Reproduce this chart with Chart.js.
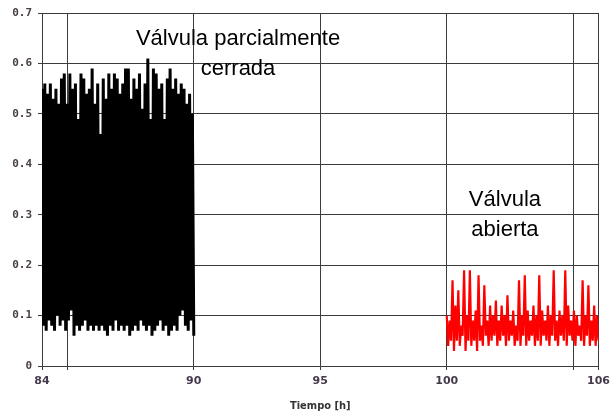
<!DOCTYPE html>
<html>
<head>
<meta charset="utf-8">
<script src="https://cdn.jsdelivr.net/npm/chart.js@4"></script>
<style>
    html, body { margin: 0; padding: 0; background: #fff; }
    #wrap { width: 615px; height: 413px; }
</style>
</head>
<body>
<div id="wrap"><canvas id="chart" width="615" height="413"></canvas></div>
<script>
// closed valve period, 84 h to 90 h (alternating peaks and troughs)
const closedStart = 84;
const closedEnd = 90;
const closedValues = [
    0.55, 0.08, 0.56, 0.07, 0.54, 0.09, 0.56, 0.08, 0.53, 0.07, 0.55, 0.10, 0.52, 0.08, 0.57, 0.09,
    0.58, 0.07, 0.52, 0.09, 0.58, 0.11, 0.55, 0.06, 0.56, 0.08, 0.49, 0.07, 0.58, 0.08, 0.57, 0.09,
    0.54, 0.07, 0.55, 0.08, 0.59, 0.07, 0.52, 0.08, 0.56, 0.07, 0.46, 0.08, 0.57, 0.07, 0.53, 0.06,
    0.58, 0.08, 0.55, 0.07, 0.58, 0.09, 0.57, 0.07, 0.54, 0.08, 0.56, 0.07, 0.59, 0.08, 0.59, 0.06,
    0.53, 0.07, 0.57, 0.08, 0.55, 0.07, 0.58, 0.09, 0.51, 0.08, 0.56, 0.07, 0.61, 0.08, 0.49, 0.06,
    0.59, 0.07, 0.58, 0.08, 0.55, 0.09, 0.56, 0.07, 0.49, 0.08, 0.57, 0.06, 0.59, 0.07, 0.55, 0.08,
    0.57, 0.07, 0.54, 0.10, 0.56, 0.11, 0.55, 0.08, 0.52, 0.07, 0.54, 0.09, 0.50, 0.06
];

// open valve period, 100 h to 106 h
const openStart = 100;
const openEnd = 106;
const openValues = [
    0.10, 0.04, 0.09, 0.05, 0.17, 0.03, 0.12, 0.05, 0.15, 0.04, 0.08, 0.06, 0.19, 0.03, 0.10, 0.05,
    0.19, 0.04, 0.09, 0.05, 0.11, 0.03, 0.18, 0.05, 0.08, 0.04, 0.16, 0.06, 0.09, 0.04, 0.12, 0.05,
    0.10, 0.06, 0.13, 0.04, 0.09, 0.05, 0.12, 0.06, 0.10, 0.04, 0.14, 0.05, 0.09, 0.06, 0.11, 0.04,
    0.08, 0.05, 0.17, 0.04, 0.10, 0.06, 0.18, 0.04, 0.11, 0.05, 0.09, 0.06, 0.12, 0.04, 0.10, 0.05,
    0.18, 0.04, 0.11, 0.06, 0.09, 0.05, 0.12, 0.04, 0.10, 0.06, 0.19, 0.05, 0.09, 0.04, 0.11, 0.06,
    0.10, 0.05, 0.19, 0.04, 0.12, 0.06, 0.09, 0.05, 0.11, 0.04, 0.10, 0.06, 0.08, 0.05, 0.17, 0.04,
    0.10, 0.06, 0.16, 0.04, 0.09, 0.05, 0.12, 0.04, 0.10, 0.05
];

const xGridValues = [84, 85, 90, 95, 100, 105, 106];
const xTickLabels = [84, 90, 95, 100, 106];
const yTicks = [0, 0.1, 0.2, 0.3, 0.4, 0.5, 0.6, 0.7];

const notes = [
    { lines: ['Válvula parcialmente', 'cerrada'], x: 91.75, y: 0.648 },
    { lines: ['Válvula', 'abierta'], x: 102.3, y: 0.33 }
];

function toPoints(values, start, end) {
    const step = (end - start) / (values.length - 1);
    return values.map((v, i) => ({ x: start + i * step, y: v }));
}

const notesPlugin = {
    id: 'notes',
    afterDraw(chart) {
        const ctx = chart.ctx;
        const xs = chart.scales.x;
        const ys = chart.scales.y;
        ctx.save();
        ctx.fillStyle = '#000';
        ctx.font = '22px "Liberation Sans", Arial, sans-serif';
        ctx.textAlign = 'center';
        ctx.textBaseline = 'middle';
        notes.forEach(n => {
            const px = xs.getPixelForValue(n.x);
            const py = ys.getPixelForValue(n.y);
            n.lines.forEach((line, i) => ctx.fillText(line, px, py + i * 30));
        });
        ctx.restore();
    }
};

document.addEventListener('DOMContentLoaded', function() {
    const ctx = document.getElementById('chart').getContext('2d');
    new Chart(ctx, {
        type: 'line',
        data: {
            datasets: [
                {
                    label: 'cerrada',
                    data: toPoints(closedValues, closedStart, closedEnd),
                    borderColor: '#000000',
                    borderWidth: 3,
                    borderJoinStyle: 'bevel',
                    pointRadius: 0,
                    tension: 0
                },
                {
                    label: 'abierta',
                    data: toPoints(openValues, openStart, openEnd),
                    borderColor: '#ff0000',
                    borderWidth: 2.2,
                    borderJoinStyle: 'bevel',
                    pointRadius: 0,
                    tension: 0
                }
            ]
        },
        options: {
            responsive: false,
            animation: false,
            layout: {
                padding: { top: 13, right: 12, bottom: 0, left: 0 }
            },
            plugins: {
                legend: { display: false },
                tooltip: { enabled: false }
            },
            scales: {
                x: {
                    type: 'linear',
                    min: 84,
                    max: 106,
                    afterBuildTicks: scale => {
                        scale.ticks = xGridValues.map(v => ({ value: v }));
                    },
                    afterFit: scale => { scale.height = 47; },
                    ticks: {
                        autoSkip: false,
                        maxRotation: 0,
                        padding: 5,
                        color: '#453a4c',
                        font: { family: '"DejaVu Sans", sans-serif', size: 11, weight: 'bold' },
                        callback: v => xTickLabels.includes(v) ? String(v) : ''
                    },
                    grid: {
                        color: '#3c3c3c',
                        lineWidth: 1,
                        tickLength: 4
                    },
                    border: { color: '#3c3c3c', width: 1 },
                    title: {
                        display: true,
                        text: 'Tiempo [h]',
                        color: '#333333',
                        padding: { top: 1, bottom: 0 },
                        font: { family: '"DejaVu Sans Condensed", "DejaVu Sans", sans-serif', size: 11, weight: 'bold' }
                    }
                },
                y: {
                    min: 0,
                    max: 0.7,
                    afterBuildTicks: scale => {
                        scale.ticks = yTicks.map(v => ({ value: v }));
                    },
                    afterFit: scale => { scale.width = 42; },
                    ticks: {
                        padding: 6,
                        color: '#4a4040',
                        font: { family: '"DejaVu Sans Mono", monospace', size: 11, weight: 'bold' },
                        callback: v => v === 0 ? '0' : v.toFixed(1)
                    },
                    grid: {
                        color: '#3c3c3c',
                        lineWidth: 1,
                        tickLength: 4
                    },
                    border: { color: '#3c3c3c', width: 1 }
                }
            }
        },
        plugins: [notesPlugin]
    });
});
</script>
</body>
</html>
